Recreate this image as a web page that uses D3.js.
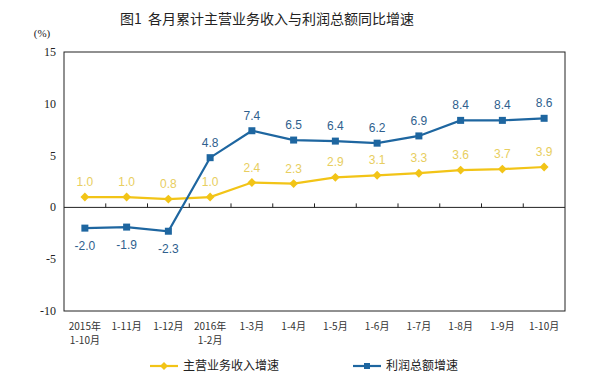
<!DOCTYPE html>
<html>
<head>
<meta charset="utf-8">
<script src="https://cdn.jsdelivr.net/npm/d3@7"></script>
<style>
body { margin: 0; background: #fff; }
svg { display: block; }
.ylab { font-family: "Liberation Serif", "DejaVu Serif", serif; font-size: 12px; fill: #222; }
.xlab { font-family: "Noto Sans CJK SC", sans-serif; font-size: 10px; fill: #333; }
.dlab { font-family: "Liberation Sans", Arial, sans-serif; font-size: 12px; }
</style>
</head>
<body>
<div id="viz"></div>
<script>
var categories = [["2015年", "1-10月"], ["1-11月"], ["1-12月"], ["2016年", "1-2月"], ["1-3月"], ["1-4月"],
    ["1-5月"], ["1-6月"], ["1-7月"], ["1-8月"], ["1-9月"], ["1-10月"]];
var revenue = [1.0, 1.0, 0.8, 1.0, 2.4, 2.3, 2.9, 3.1, 3.3, 3.6, 3.7, 3.9];
var profit = [-2.0, -1.9, -2.3, 4.8, 7.4, 6.5, 6.4, 6.2, 6.9, 8.4, 8.4, 8.6];
var yTicks = [-10, -5, 0, 5, 10, 15];

var width = 591, height = 388;
var margin = {top: 52, right: 26, bottom: 77, left: 64};

var svg = d3.select('#viz').append('svg')
    .attr('width', width)
    .attr('height', height);

svg.append('text')
    .attr('x', 267).attr('y', 24)
    .attr('text-anchor', 'middle')
    .style('font-family', '"Noto Sans CJK SC", sans-serif')
    .style('font-size', '14px')
    .style('font-weight', '400')
    .style('fill', '#222')
    .attr('xml:space', 'preserve')
    .text('图1  各月累计主营业务收入与利润总额同比增速');

var x = d3.scaleBand()
    .domain(d3.range(categories.length))
    .range([margin.left, width - margin.right]);

var y = d3.scaleLinear()
    .domain([-10, 15])
    .range([height - margin.bottom, margin.top]);

// plot frame
svg.append('rect')
    .attr('x', margin.left).attr('y', margin.top)
    .attr('width', width - margin.left - margin.right)
    .attr('height', height - margin.top - margin.bottom)
    .attr('fill', 'none').attr('stroke', '#222').attr('stroke-width', 1);

// y labels
svg.selectAll('.ylab').data(yTicks).enter().append('text')
    .attr('class', 'ylab')
    .attr('x', margin.left - 8)
    .attr('y', function(d) { return y(d) + 4; })
    .attr('text-anchor', 'end')
    .text(function(d) { return d; });

svg.append('text')
    .attr('class', 'ylab')
    .attr('x', 42).attr('y', 37)
    .attr('text-anchor', 'middle')
    .style('font-size', '11px')
    .text('(%)');

// zero axis with upward ticks
svg.append('line')
    .attr('x1', margin.left).attr('x2', width - margin.right)
    .attr('y1', y(0)).attr('y2', y(0))
    .attr('stroke', '#222');

svg.selectAll('.tick').data(d3.range(1, categories.length)).enter().append('line')
    .attr('x1', function(d) { return x(d); })
    .attr('x2', function(d) { return x(d); })
    .attr('y1', y(0)).attr('y2', y(0) - 4)
    .attr('stroke', '#222');

// x labels
categories.forEach(function(c, i) {
    var t = svg.append('text')
        .attr('class', 'xlab')
        .attr('text-anchor', 'middle')
        .attr('x', x(i) + x.bandwidth() / 2)
        .attr('y', height - margin.bottom + 19);
    c.forEach(function(s, j) {
        t.append('tspan')
            .attr('x', x(i) + x.bandwidth() / 2)
            .attr('dy', j === 0 ? 0 : 14)
            .text(s);
    });
});

var cx = function(d, i) { return x(i) + x.bandwidth() / 2; };
var line = d3.line().x(cx).y(function(d) { return y(d); });

var yellow = '#F2C417', blue = '#1E66A0';

// revenue series
svg.append('path').datum(revenue)
    .attr('d', line).attr('fill', 'none')
    .attr('stroke', yellow).attr('stroke-width', 2.2);

svg.selectAll('.dia').data(revenue).enter().append('path')
    .attr('d', d3.symbol().type(d3.symbolDiamond2).size(50))
    .attr('transform', function(d, i) { return 'translate(' + cx(d, i) + ',' + y(d) + ')'; })
    .attr('fill', yellow);

svg.selectAll('.rlab').data(revenue).enter().append('text')
    .attr('class', 'dlab')
    .attr('x', cx).attr('y', function(d) { return y(d) - 11; })
    .attr('text-anchor', 'middle')
    .attr('fill', '#E8CE60')
    .text(function(d) { return d.toFixed(1); });

// profit series
svg.append('path').datum(profit)
    .attr('d', line).attr('fill', 'none')
    .attr('stroke', blue).attr('stroke-width', 2.2);

svg.selectAll('.sq').data(profit).enter().append('rect')
    .attr('x', function(d, i) { return cx(d, i) - 3.5; })
    .attr('y', function(d) { return y(d) - 3.5; })
    .attr('width', 7).attr('height', 7)
    .attr('fill', blue);

svg.selectAll('.plab').data(profit).enter().append('text')
    .attr('class', 'dlab')
    .attr('x', cx)
    .attr('y', function(d) { return d < 0 ? y(d) + 22 : y(d) - 11; })
    .attr('text-anchor', 'middle')
    .attr('fill', '#2F5F8E')
    .text(function(d) { return d.toFixed(1); });

// legend
var legend = [
    {label: '主营业务收入增速', color: yellow, x: 150, shape: 'diamond'},
    {label: '利润总额增速', color: blue, x: 353, shape: 'square'}
];
legend.forEach(function(l) {
    var g = svg.append('g').attr('transform', 'translate(' + l.x + ',366)');
    g.append('line').attr('x1', 0).attr('x2', 28).attr('stroke', l.color).attr('stroke-width', 2.2);
    if (l.shape === 'diamond') {
        g.append('path').attr('d', d3.symbol().type(d3.symbolDiamond2).size(40))
            .attr('transform', 'translate(14,0)').attr('fill', l.color);
    } else {
        g.append('rect').attr('x', 11).attr('y', -3).attr('width', 6).attr('height', 6).attr('fill', l.color);
    }
    g.append('text')
        .attr('x', 33).attr('y', 4)
        .style('font-family', '"Noto Sans CJK SC", sans-serif')
        .style('font-size', '12px')
        .style('fill', '#222')
        .text(l.label);
});
</script>
</body>
</html>
